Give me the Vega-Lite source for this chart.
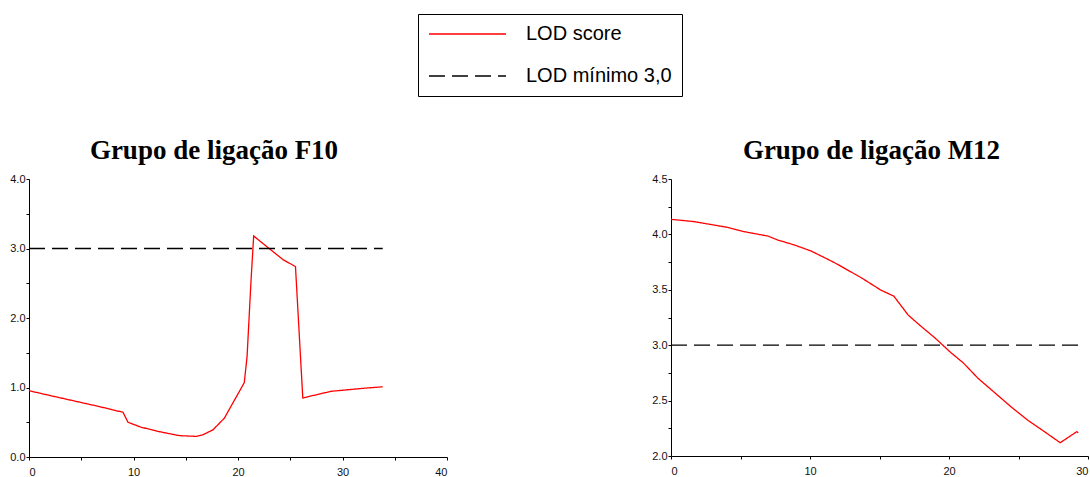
{
  "$schema": "https://vega.github.io/schema/vega-lite/v6.json",
  "background": "white",
  "padding": {"left": 9, "top": 13, "right": 0, "bottom": 0},
  "datasets": {
    "f10": [
      {"x": 0, "lod": 0.954, "serie": "LOD score"},
      {"x": 2.14, "lod": 0.88, "serie": "LOD score"},
      {"x": 6.6, "lod": 0.73, "serie": "LOD score"},
      {"x": 9.0, "lod": 0.643, "serie": "LOD score"},
      {"x": 9.47, "lod": 0.5, "serie": "LOD score"},
      {"x": 10.7, "lod": 0.43, "serie": "LOD score"},
      {"x": 12.3, "lod": 0.37, "serie": "LOD score"},
      {"x": 14.4, "lod": 0.307, "serie": "LOD score"},
      {"x": 16.0, "lod": 0.297, "serie": "LOD score"},
      {"x": 16.6, "lod": 0.317, "serie": "LOD score"},
      {"x": 17.6, "lod": 0.39, "serie": "LOD score"},
      {"x": 18.7, "lod": 0.56, "serie": "LOD score"},
      {"x": 20.6, "lod": 1.07, "serie": "LOD score"},
      {"x": 20.87, "lod": 1.45, "serie": "LOD score"},
      {"x": 21.25, "lod": 2.55, "serie": "LOD score"},
      {"x": 21.5, "lod": 3.18, "serie": "LOD score"},
      {"x": 24.3, "lod": 2.84, "serie": "LOD score"},
      {"x": 25.5, "lod": 2.74, "serie": "LOD score"},
      {"x": 26.2, "lod": 0.85, "serie": "LOD score"},
      {"x": 28.9, "lod": 0.945, "serie": "LOD score"},
      {"x": 32.1, "lod": 0.99, "serie": "LOD score"},
      {"x": 33.85, "lod": 1.01, "serie": "LOD score"},
      {"x": 0, "lod": 3.0, "serie": "LOD mínimo 3,0"},
      {"x": 33.85, "lod": 3.0, "serie": "LOD mínimo 3,0"}
    ],
    "m12": [
      {"x": 0, "lod": 4.136, "serie": "LOD score"},
      {"x": 1.68, "lod": 4.115, "serie": "LOD score"},
      {"x": 4.09, "lod": 4.063, "serie": "LOD score"},
      {"x": 5.29, "lod": 4.024, "serie": "LOD score"},
      {"x": 6.97, "lod": 3.985, "serie": "LOD score"},
      {"x": 7.69, "lod": 3.949, "serie": "LOD score"},
      {"x": 8.89, "lod": 3.904, "serie": "LOD score"},
      {"x": 10.1, "lod": 3.849, "serie": "LOD score"},
      {"x": 11.78, "lod": 3.744, "serie": "LOD score"},
      {"x": 13.7, "lod": 3.608, "serie": "LOD score"},
      {"x": 15.1, "lod": 3.497, "serie": "LOD score"},
      {"x": 16.03, "lod": 3.443, "serie": "LOD score"},
      {"x": 17.07, "lod": 3.271, "serie": "LOD score"},
      {"x": 18.03, "lod": 3.166, "serie": "LOD score"},
      {"x": 18.99, "lod": 3.066, "serie": "LOD score"},
      {"x": 20.07, "lod": 2.94, "serie": "LOD score"},
      {"x": 21.03, "lod": 2.84, "serie": "LOD score"},
      {"x": 22.1, "lod": 2.7, "serie": "LOD score"},
      {"x": 23.3, "lod": 2.57, "serie": "LOD score"},
      {"x": 24.5, "lod": 2.44, "serie": "LOD score"},
      {"x": 25.7, "lod": 2.32, "serie": "LOD score"},
      {"x": 26.9, "lod": 2.217, "serie": "LOD score"},
      {"x": 28.0, "lod": 2.12, "serie": "LOD score"},
      {"x": 29.2, "lod": 2.22, "serie": "LOD score"},
      {"x": 29.3, "lod": 2.21, "serie": "LOD score"},
      {"x": 0, "lod": 3.0, "serie": "LOD mínimo 3,0"},
      {"x": 29.3, "lod": 3.0, "serie": "LOD mínimo 3,0"}
    ]
  },
  "spacing": 203,
  "resolve": {"scale": {"color": "shared", "strokeDash": "shared"}, "legend": {"color": "shared"}},
  "hconcat": [
    {
      "width": 418,
      "height": 278,
      "title": {"text": "Grupo de ligação F10", "dx": -24, "offset": 8},
      "data": {"name": "f10"},
      "mark": {"type": "line", "strokeWidth": 1.3},
      "encoding": {
        "x": {"field": "x", "type": "quantitative", "scale": {"domain": [0, 40], "nice": false},
              "axis": {"values": [0, 5, 10, 15, 20, 25, 30, 35, 40], "labelExpr": "datum.value % 10 == 0 ? datum.label : ''", "labelPadding": 6}},
        "y": {"field": "lod", "type": "quantitative", "scale": {"domain": [0, 4], "nice": false},
              "axis": {"values": [0, 0.5, 1, 1.5, 2, 2.5, 3, 3.5, 4], "labelExpr": "datum.value % 1 == 0 ? format(datum.value, '.1f') : ''"}},
        "color": {"field": "serie", "type": "nominal",
                  "scale": {"domain": ["LOD score", "LOD mínimo 3,0"], "range": ["#ff0000", "#000000"]},
                  "legend": {"encode": {"symbols": {"update": {"strokeDash": {"value": {"expr": "datum.index === 1 ? [26, 25] : [1, 0]"}}}}}}},
        "strokeDash": {"field": "serie", "type": "nominal", "legend": null,
                  "scale": {"domain": ["LOD score", "LOD mínimo 3,0"], "range": [[1, 0], [16, 7]]}}
      }
    },
    {
      "width": 417,
      "height": 277,
      "title": {"text": "Grupo de ligação M12", "dx": -8, "offset": 8},
      "data": {"name": "m12"},
      "mark": {"type": "line", "strokeWidth": 1.3},
      "encoding": {
        "x": {"field": "x", "type": "quantitative", "scale": {"domain": [0, 30], "nice": false},
              "axis": {"values": [0, 5, 10, 15, 20, 25, 30], "labelExpr": "datum.value % 10 == 0 ? datum.label : ''", "labelPadding": 6}},
        "y": {"field": "lod", "type": "quantitative", "scale": {"domain": [2, 4.5], "nice": false, "zero": false},
              "axis": {"values": [2, 2.25, 2.5, 2.75, 3, 3.25, 3.5, 3.75, 4, 4.25, 4.5], "labelExpr": "datum.value % 0.5 == 0 ? format(datum.value, '.1f') : ''"}},
        "color": {"field": "serie", "type": "nominal",
                  "scale": {"domain": ["LOD score", "LOD mínimo 3,0"], "range": ["#ff0000", "#000000"]},
                  "legend": {"encode": {"symbols": {"update": {"strokeDash": {"value": {"expr": "datum.index === 1 ? [26, 25] : [1, 0]"}}}}}}},
        "strokeDash": {"field": "serie", "type": "nominal", "legend": null,
                  "scale": {"domain": ["LOD score", "LOD mínimo 3,0"], "range": [[1, 0], [16, 7]]}}
      }
    }
  ],
  "config": {
    "view": {"stroke": null},
    "axis": {
      "grid": false,
      "title": null,
      "domainColor": "#000000",
      "domainWidth": 1,
      "tickColor": "#000000",
      "tickSize": 3,
      "labelFont": "Liberation Sans",
      "labelFontSize": 11,
      "labelColor": "#111111",
      "labelPadding": 1
    },
    "title": {"font": "Liberation Serif", "fontSize": 27, "fontWeight": "bold", "color": "#000000", "anchor": "middle"},
    "legend": {
      "orient": "none",
      "legendX": 389,
      "legendY": -165,
      "title": null,
      "strokeColor": "#000000",
      "fillColor": "#ffffff",
      "padding": 10,
      "symbolType": "stroke",
      "symbolSize": 5929,
      "symbolStrokeWidth": 1.5,
      "clipHeight": 20,
      "rowPadding": 22,
      "labelFont": "Liberation Sans",
      "labelFontSize": 20,
      "labelColor": "#000000",
      "labelOffset": 19,
      "labelLimit": 400
    }
  }
}
